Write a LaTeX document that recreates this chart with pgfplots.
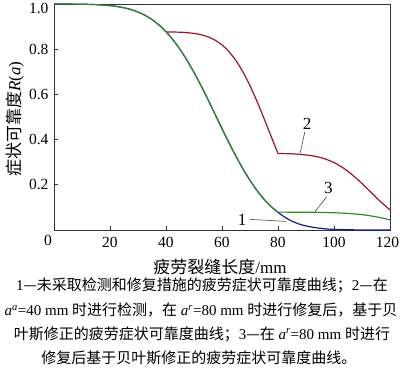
\documentclass[border=0pt]{standalone}
\usepackage{pgfplots}
\pgfplotsset{compat=1.18}
\usepackage{fontspec}
\setmainfont{Liberation Serif}
\newfontfamily\cjk{Noto Sans CJK SC}
\definecolor{cred}{RGB}{160,20,40}
\definecolor{cgreen}{RGB}{50,140,40}
\definecolor{cblue}{RGB}{15,30,140}
\begin{document}
\begin{tikzpicture}
\useasboundingbox (0,0) rectangle (400pt,371pt);
\begin{axis}[
  at={(54pt,141pt)}, anchor=south west, scale only axis,
  width=336pt, height=226pt,
  xmin=0, xmax=120, ymin=0, ymax=1,
  xtick={20,40,60,80,100,120},
  xticklabels={20,40,60,80,100,{\makebox[0pt]{\kern-5pt 120}}},
  ytick={0.2,0.4,0.6,0.8},
  yticklabels={0.2,0.4,0.6,0.8},
  extra y ticks={1.0},
  extra y tick labels={1.0},
  extra y tick style={yticklabel style={yshift=-4pt}},
  yticklabel style={xshift=-2pt},
  xticklabel style={yshift=-4pt},
  tick label style={font=\fontsize{15.5}{16}\selectfont},
  tick align=inside, tick pos=left, major tick length=4pt,
  axis line style={black!80, line width=0.8pt},
  every tick/.style={black!80, line width=0.8pt},
  clip=false,
]
% curve 1 (blue)
\addplot[cblue, line width=1.2pt, smooth] coordinates {
(0,1.0000)(5,0.9997)(10,0.9990)(15,0.9972)(20,0.9929)(22.5,0.9890)(25,0.9834)(27.5,0.9755)
(30,0.9646)(32.5,0.9500)(35,0.9311)(37.5,0.9071)(40,0.8772)(42.5,0.8413)(45,0.7992)
(47.5,0.7509)(50,0.6971)(52.5,0.6387)(55,0.5769)(57.5,0.5128)(60,0.4487)(62.5,0.3859)
(65,0.3257)(67.5,0.2700)(70,0.2194)(72.5,0.1748)(75,0.1363)(77.5,0.1042)(80,0.0779)
(82.5,0.0560)(85,0.0390)(87.5,0.0265)(90,0.0180)(92.5,0.0120)(95,0.0075)(97.5,0.0045)
(100,0.0028)(105,0.0010)(110,0.0003)(115,0.0001)(120,0.0000)};
% curve 2 (red)
\addplot[cred, line width=1.2pt, smooth] coordinates {
(40,0.8766)(42.5,0.8760)(45,0.8751)(47.5,0.8732)(50,0.8698)(52.5,0.8641)(55,0.8547)
(57.5,0.8402)(60,0.8189)(62.5,0.7890)(65,0.7494)(67.5,0.6990)(70,0.6385)(72.5,0.5693)
(75,0.4939)(77.5,0.4158)(80,0.3384)};
\addplot[cred, line width=1.2pt, smooth] coordinates {
(80,0.3384)(84,0.3375)(88,0.3345)(92,0.3289)(96,0.3177)(100,0.2983)(104,0.2685)
(108,0.2285)(112,0.1815)(116,0.1328)(120,0.0888)};
% curve 1 before repair (green, on top) and curve 3
\addplot[cgreen, line width=1.2pt, smooth] coordinates {
(0,1.0000)(5,0.9997)(10,0.9990)(15,0.9972)(20,0.9929)(22.5,0.9890)(25,0.9834)(27.5,0.9755)
(30,0.9646)(32.5,0.9500)(35,0.9311)(37.5,0.9071)(40,0.8772)(42.5,0.8413)(45,0.7992)
(47.5,0.7509)(50,0.6971)(52.5,0.6387)(55,0.5769)(57.5,0.5128)(60,0.4487)(62.5,0.3859)
(65,0.3257)(67.5,0.2700)(70,0.2194)(72.5,0.1748)(75,0.1363)(77.5,0.1042)(80,0.0779)};
\addplot[cgreen, line width=1.2pt, smooth] coordinates {
(80,0.0790)(85,0.0789)(90,0.0786)(95,0.0778)(100,0.0762)(105,0.0732)(110,0.0680)
(115,0.0585)(120,0.0450)};
% labels
\draw[black!70, line width=0.6pt] (axis cs:70.0,0.047) -- (axis cs:83.0,0.038);
\node[font=\fontsize{17}{18}\selectfont] at (axis cs:67.2,0.046) {1};
\draw[black!70, line width=0.6pt] (axis cs:89.6,0.435) -- (axis cs:87.9,0.339);
\node[font=\fontsize{17}{18}\selectfont] at (axis cs:90.4,0.470) {2};
\draw[black!70, line width=0.6pt] (axis cs:97.4,0.147) -- (axis cs:93.2,0.081);
\node[font=\fontsize{17}{18}\selectfont] at (axis cs:98.0,0.188) {3};
\end{axis}
\node[font=\fontsize{15.5}{16}\selectfont] at (48pt,131pt) {0};
\node[font=\fontsize{17}{18}\selectfont] at (220pt,104pt) {{\cjk 疲劳裂缝长度}/mm};
\node[rotate=90, font=\fontsize{17}{18}\selectfont] at (15pt,252pt) {{\cjk 症状可靠度}\textit{R}(\textit{a})};
\node[font=\fontsize{15}{16}\selectfont] at (202pt,86pt) {1{\cjk —未采取检测和修复措施的疲劳症状可靠度曲线；}2{\cjk —在}};
\node[font=\fontsize{15}{16}\selectfont] at (201pt,61pt) {\textit{a}\textsuperscript{\textit{a}}=40 mm {\cjk 时进行检测，在} \textit{a}\textsuperscript{\textit{r}}=80 mm {\cjk 时进行修复后，基于贝}};
\node[font=\fontsize{15}{16}\selectfont] at (202pt,37pt) {{\cjk 叶斯修正的疲劳症状可靠度曲线；}3{\cjk —在} \textit{a}\textsuperscript{\textit{r}}=80 mm {\cjk 时进行}};
\node[font=\fontsize{15}{16}\selectfont] at (199pt,13pt) {{\cjk 修复后基于贝叶斯修正的疲劳症状可靠度曲线。}};
\end{tikzpicture}
\end{document}
